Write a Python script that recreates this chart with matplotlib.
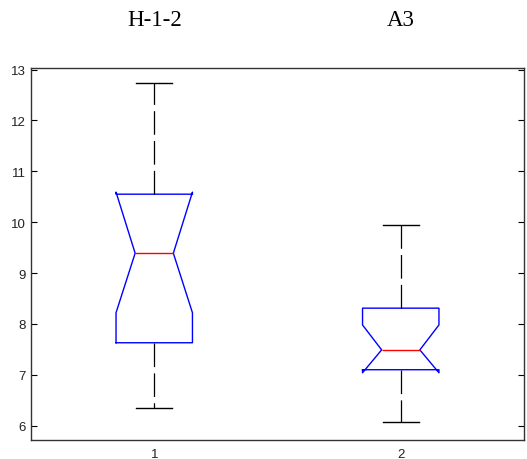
import matplotlib
matplotlib.use('Agg')
import matplotlib.pyplot as plt
import matplotlib.transforms as mtransforms

plt.rcParams['lines.scale_dashes'] = False

# values
names = ['H-1-2', 'A3']
positions = [1, 2]
whislo = [6.35, 6.07]
q1 = [7.63, 7.10]
med = [9.39, 7.49]
q3 = [10.55, 8.31]
whishi = [12.73, 9.95]
cilo = [8.22, 7.04]
cihi = [10.59, 7.98]

stats = []
for i in range(len(names)):
    stats.append({'label': str(positions[i]), 'whislo': whislo[i], 'q1': q1[i],
                  'med': med[i], 'q3': q3[i], 'whishi': whishi[i],
                  'cilo': cilo[i], 'cihi': cihi[i], 'fliers': []})

fig = plt.figure(figsize=(5.27, 4.60), dpi=100)
ax = fig.add_axes([0.0588, 0.042, 0.9355, 0.808])

bp = ax.bxp(stats, positions=positions, widths=0.31, capwidths=0.145,
            shownotches=True, showfliers=False,
            boxprops=dict(color='#0000ff', linewidth=1.0),
            medianprops=dict(color='#ff0000', linewidth=1.0),
            whiskerprops=dict(color='black', linewidth=0.9),
            capprops=dict(color='black', linewidth=1.0))
for w in bp['whiskers']:
    w.set_linestyle((0, (17, 4.5)))

ax.set_xlim(0.5, 2.5)
ax.set_ylim(5.725, 13.03)
ax.set_yticks(range(6, 14))
ax.set_xticks(positions)
ax.set_xticklabels([str(p) for p in positions])
ax.tick_params(axis='y', direction='in', length=4, right=True,
               labelsize=9.5, labelcolor='#222222', width=0.8)
ax.tick_params(axis='x', length=0, pad=6, labelsize=9.5, labelcolor='#222222')
for lab in ax.get_xticklabels() + ax.get_yticklabels():
    lab.set_family('Liberation Sans')
for s in ax.spines.values():
    s.set_linewidth(1.0)
    s.set_color('#333333')

trans = mtransforms.blended_transform_factory(ax.transData, fig.transFigure)
for p, n in zip(positions, names):
    ax.text(p, 0.955, n, transform=trans, ha='center', va='center',
            family='Liberation Serif', fontsize=16.5)

fig.savefig('out.png', dpi=100)
